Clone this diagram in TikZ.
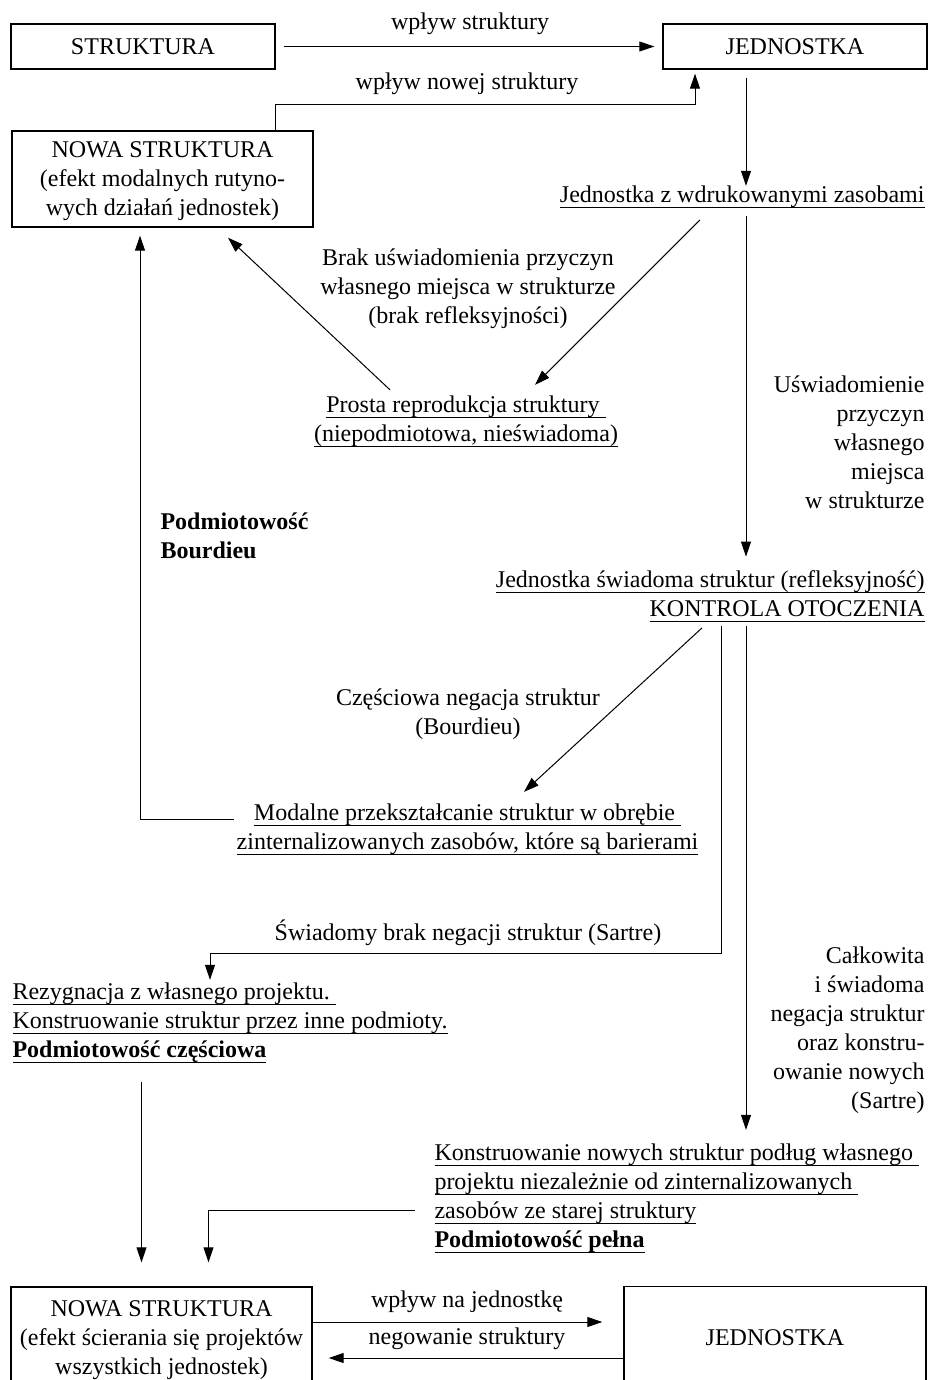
\documentclass[tikz,border=0pt]{standalone}
\usepackage{fontspec}
\setmainfont{Liberation Serif}
\usetikzlibrary{arrows.meta}
\newsavebox{\podkrbox}
\newcommand{\podkr}[1]{\sbox\podkrbox{#1}\rlap{\rule[-2.7pt]{\wd\podkrbox}{0.45pt}}\usebox\podkrbox}

\begin{document}
\begin{tikzpicture}[x=0.5pt, y=-0.5pt, ->, >={Triangle[length=7.5pt,width=5pt]}, line width=0.5pt,
  font=\fontsize{12}{14.5}\selectfont,
  pudlo/.style={draw, line width=0.7pt, inner sep=0pt, align=center},
  opis/.style={inner sep=0pt, align=center}]
\useasboundingbox (0,0) rectangle (928,1380);
% Węzły
\node [pudlo, minimum width=132pt, minimum height=22.5pt] (strukt) at (143,46.5) {STRUKTURA};
\node [pudlo, minimum width=132pt, minimum height=22.5pt] (jedn) at (795,46.5) {JEDNOSTKA};
\node [pudlo, minimum width=150.5pt, minimum height=48pt, text depth=0pt] (nowa) at (162.5,179) {NOWA STRUKTURA\\(efekt modalnych rutyno-\\wych działań jednostek)};
\node [pudlo, minimum width=150.5pt, minimum height=50.5pt, text depth=0pt] (nowa2) at (161.5,1337.5) {NOWA STRUKTURA\\(efekt ścierania się projektów\\wszystkich jednostek)};
\node [pudlo, minimum width=151pt, minimum height=51pt] (jedn2) at (775,1337.5) {JEDNOSTKA};
% Teksty (base = ostatnia linia)
\node [opis, anchor=base] (lbl1) at (470,30) {wpływ struktury};
\node [opis, anchor=base] (lbl2) at (467,90) {wpływ nowej struktury};
\node [opis, anchor=base east] (wdruk) at (925,203) {\podkr{Jednostka z wdrukowanymi zasobami}};
\node [opis, anchor=base] (brak) at (468,323) {Brak uświadomienia przyczyn\\własnego miejsca w strukturze\\(brak refleksyjności)};
\node [opis, anchor=base] (prosta) at (466,441) {\podkr{Prosta reprodukcja struktury\ }\\\podkr{(niepodmiotowa, nieświadoma)}};
\node [opis, anchor=base east, align=right] (uswiad) at (925,508) {Uświadomienie\\przyczyn\\własnego\\miejsca\\w strukturze};
\node [opis, anchor=base west, align=left] (podm) at (160,558) {\textbf{Podmiotowość}\\\textbf{Bourdieu}};
\node [opis, anchor=base east, align=right] (swiad) at (925,616) {\podkr{Jednostka świadoma struktur (refleksyjność)}\\\podkr{KONTROLA OTOCZENIA}};
\node [opis, anchor=base] (czesc) at (468,734) {Częściowa negacja struktur\\(Bourdieu)};
\node [opis, anchor=base] (modal) at (467.5,849) {\podkr{Modalne przekształcanie struktur w obrębie\ }\\\podkr{zinternalizowanych zasobów, które są barierami}};
\node [opis, anchor=base] (swbrak) at (468,940) {Świadomy brak negacji struktur (Sartre)};
\node [opis, anchor=base west, align=left] (rezyg) at (12,1057) {\podkr{Rezygnacja z własnego projektu.\ }\\\podkr{Konstruowanie struktur przez inne podmioty.}\\\textbf{\podkr{Podmiotowość częściowa}}};
\node [opis, anchor=base east, align=right] (calk) at (925,1108) {Całkowita\\i świadoma\\negacja struktur\\oraz konstru-\\owanie nowych\\(Sartre)};
\node [opis, anchor=base west, align=left] (konstr) at (434,1247) {\podkr{Konstruowanie nowych struktur podług własnego\ }\\\podkr{projektu niezależnie od zinternalizowanych\ }\\\podkr{zasobów ze starej struktury}\\\textbf{\podkr{Podmiotowość pełna}}};
\node [opis, anchor=base] (lbl3) at (467,1307) {wpływ na jednostkę};
\node [opis, anchor=base] (lbl4) at (467,1344) {negowanie struktury};
% Punkty pomocnicze
\coordinate (kol) at ([xshift=-24.5pt]jedn.south);
\coordinate (kol2) at ([xshift=-12.5pt]kol);
\coordinate (kolL) at ([xshift=-11.25pt]nowa.south);
\coordinate (kolA) at ([xshift=-10pt]nowa2.north);
\coordinate (kolB) at ([xshift=23.5pt]nowa2.north);
\coordinate (linia) at (210,953);
% Krawędzie
% ---
% góra
% ---
\path (strukt) edge [shorten <=4pt, shorten >=4pt] (jedn);
\draw ([xshift=56.25pt]nowa.north) |- ([xshift=-50pt,yshift=-17.5pt]jedn.south) -- ([xshift=-50pt,yshift=-2pt]jedn.south);
% ---
% prawa kolumna
% ---
\draw [shorten <=4pt] (kol) -- (kol |- wdruk.north);
\draw [shorten <=3.5pt, shorten >=6.5pt] (kol |- wdruk.south) -- (kol |- swiad.north);
\draw [shorten <=2pt, shorten >=6.5pt] (kol |- swiad.south) -- (kol |- konstr.north);
\draw [shorten <=2pt, shorten >=1pt] (kol2 |- swiad.south) -- (kol2 |- linia) -| (rezyg.north -| linia);
% ---
% skosy
% ---
\draw ([xshift=-112.5pt,yshift=-5.5pt]wdruk.south east) -- ([xshift=34.5pt,yshift=5pt]prosta.north);
\draw ([xshift=-38pt,yshift=2.5pt]prosta.north) -- ([xshift=32.75pt,yshift=-5pt]nowa.south);
\draw ([xshift=-111.5pt,yshift=-3pt]swiad.south east) -- ([xshift=28.25pt,yshift=5.5pt]modal.north);
% ---
% lewa kolumna
% ---
\draw [shorten <=1pt, shorten >=4pt] ([yshift=4.5pt]modal.west) -| (kolL);
\draw [shorten <=9.5pt, shorten >=12pt] (kolA |- rezyg.south) -- (kolA);
\draw [shorten <=9.5pt, shorten >=12pt] ([yshift=-6.5pt]konstr.west) -| (kolB);
% ---
% dół
% ---
\path ([yshift=7.75pt]nowa2.east) edge [shorten >=10.5pt] ([yshift=7.75pt]jedn2.west);
\path ([yshift=-10.25pt]jedn2.west) edge [shorten >=8pt] ([yshift=-10.25pt]nowa2.east);
\end{tikzpicture}
\end{document}
